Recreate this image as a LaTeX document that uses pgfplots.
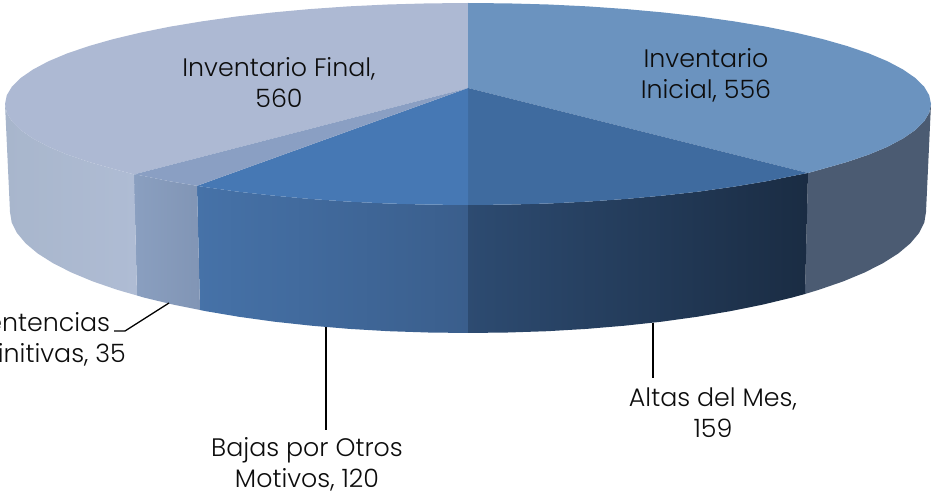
\documentclass[border=0pt]{standalone}
\usepackage{pgfplots}
\pgfplotsset{compat=1.18}
\usepackage{fontspec}
\setmainfont{Poppins}[UprightFont={* Light}]
\definecolor{topIni}{HTML}{6B93BF}
\definecolor{topAlt}{HTML}{3F6B9F}
\definecolor{topBaj}{HTML}{4678B4}
\definecolor{topSen}{HTML}{8A9FC3}
\definecolor{topFin}{HTML}{ADB9D3}
\definecolor{wallIni}{HTML}{4B5B72}
\definecolor{altL}{RGB}{45,75,113}
\definecolor{altR}{RGB}{26,44,67}
\definecolor{bajL}{RGB}{70,114,168}
\definecolor{bajR}{RGB}{58,94,140}
\definecolor{senL}{RGB}{138,159,192}
\definecolor{senR}{RGB}{129,149,181}
\definecolor{finL}{RGB}{168,182,204}
\definecolor{finR}{RGB}{175,188,212}
\tikzset{lbl/.style={font=\fontsize{25.3}{31}\selectfont,align=center,text=black!95,inner sep=0pt}}
\begin{document}
\begin{tikzpicture}
\path[use as bounding box,clip] (0,0) rectangle (932pt,494pt);
\begin{axis}[scale only axis,width=932pt,height=494pt,xmin=0,xmax=932,ymin=0,ymax=494,y dir=reverse,hide axis,no markers,clip=false]
% walls
\addplot[draw=none,fill=wallIni] coordinates {(808,173)(822.7,168.9)(847.3,161.9)(869,154.5)(887.6,146.7)(903,138.5)(915.2,130.1)(924,121.5)(929.2,112.8)(931,104)(926,212)(924.3,222.5)(919,233)(910.4,243.3)(898.4,253.4)(883.1,263.1)(864.6,272.5)(843.2,281.4)(818.8,289.8)(805,294)} -- cycle;
\addplot[draw=none,left color=altL,right color=altR] coordinates {(468,205)(508.4,204.6)(548.4,203.5)(587.8,201.6)(626.4,198.9)(663.7,195.5)(699.5,191.5)(733.6,186.7)(765.6,181.4)(795.4,175.4)(808,173)(805,294)(791.9,297.6)(762.4,304.7)(730.7,311.1)(697,316.8)(661.6,321.7)(624.6,325.7)(586.5,328.9)(547.5,331.2)(507.9,332.5)(468,333)} -- cycle;
\addplot[draw=none,left color=bajL,right color=bajR] coordinates {(197,185.8)(202.4,186.7)(236.5,191.5)(272.3,195.5)(309.6,198.9)(348.2,201.6)(387.6,203.5)(427.6,204.6)(468,205)(468,333)(428.1,332.5)(388.5,331.2)(349.5,328.9)(311.4,325.7)(274.4,321.7)(239,316.8)(205.3,311.1)(200,310)} -- cycle;
\addplot[draw=none,left color=senL,right color=senR] coordinates {(134,174.4)(140.6,175.4)(170.4,181.4)(197,185.8)(200,310)(173.6,304.7)(144.1,297.6)(137,295.5)} -- cycle;
\addplot[draw=none,left color=finL,right color=finR] coordinates {(5,104)(6.8,112.8)(12,121.5)(20.8,130.1)(33,138.5)(48.4,146.7)(67,154.5)(88.7,161.9)(113.3,168.9)(134,174.4)(137,295.5)(117.2,289.8)(92.8,281.4)(71.4,272.5)(52.9,263.1)(37.6,253.4)(25.6,243.3)(17,233)(11.7,222.5)(10,212)} -- cycle;
% top faces
\addplot[draw=none,fill=topFin] coordinates {(468,88)(134,174.4)(113.3,168.9)(88.7,161.9)(67,154.5)(48.4,146.7)(33,138.5)(20.8,130.1)(12,121.5)(6.8,112.8)(5,104)(6.8,95.2)(12,86.5)(20.8,77.9)(33,69.5)(48.4,61.3)(67,53.5)(88.7,46.1)(113.3,39.1)(140.6,32.6)(170.4,26.6)(202.4,21.3)(236.5,16.5)(272.3,12.5)(309.6,9.1)(348.2,6.4)(387.6,4.5)(427.6,3.4)(468,3)} -- cycle;
\addplot[draw=none,fill=topIni] coordinates {(468,88)(468,3)(508.4,3.4)(548.4,4.5)(587.8,6.4)(626.4,9.1)(663.7,12.5)(699.5,16.5)(733.6,21.3)(765.6,26.6)(795.4,32.6)(822.7,39.1)(847.3,46.1)(869,53.5)(887.6,61.3)(903,69.5)(915.2,77.9)(924,86.5)(929.2,95.2)(931,104)(929.2,112.8)(924,121.5)(915.2,130.1)(903,138.5)(887.6,146.7)(869,154.5)(847.3,161.9)(822.7,168.9)(808,173)} -- cycle;
\addplot[draw=none,fill=topAlt] coordinates {(468,88)(808,173)(795.4,175.4)(765.6,181.4)(733.6,186.7)(699.5,191.5)(663.7,195.5)(626.4,198.9)(587.8,201.6)(548.4,203.5)(508.4,204.6)(468,205)} -- cycle;
\addplot[draw=none,fill=topBaj] coordinates {(468,88)(468,205)(427.6,204.6)(387.6,203.5)(348.2,201.6)(309.6,198.9)(272.3,195.5)(236.5,191.5)(202.4,186.7)(197,185.8)} -- cycle;
\addplot[draw=none,fill=topSen] coordinates {(468,88)(197,185.8)(170.4,181.4)(140.6,175.4)(134,174.4)} -- cycle;
% leader lines
\addplot[black,line width=1.3pt] coordinates {(653,323)(653,378)};
\addplot[black,line width=1.3pt] coordinates {(326,327)(326,430)};
\addplot[black,line width=1.3pt] coordinates {(169,303)(125,331)(114,331)};
% labels
\node[lbl] at (axis cs:706,75) {Inventario\\Inicial, 556};
\node[lbl] at (axis cs:279,83) {Inventario Final,\\560};
\node[lbl] at (axis cs:713,413) {Altas del Mes,\\159};
\node[lbl] at (axis cs:307,464) {Bajas por Otros\\Motivos, 120};
\node[lbl] at (axis cs:41,339) {Sentencias\\Definitivas, 35};
\end{axis}
\end{tikzpicture}
\end{document}
